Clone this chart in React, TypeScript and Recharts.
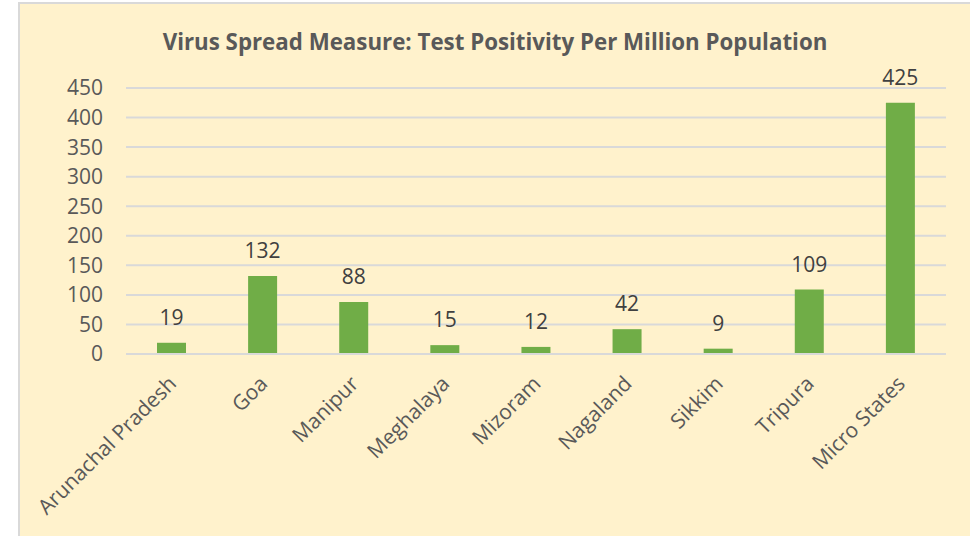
import { BarChart, Bar, XAxis, YAxis, CartesianGrid, LabelList } from 'recharts'

const states = [
  'Arunachal Pradesh',
  'Goa',
  'Manipur',
  'Meghalaya',
  'Mizoram',
  'Nagaland',
  'Sikkim',
  'Tripura',
  'Micro States',
]
const positivity = [19, 132, 88, 15, 12, 42, 9, 109, 425]
const yTicks = [0, 50, 100, 150, 200, 250, 300, 350, 400, 450]

const data = states.map((name, i) => ({ name, value: positivity[i] }))

const FONT = '"Open Sans", sans-serif'

function AngledTick(props: any) {
  const { x, y, payload } = props
  const ax = x + 6
  const ay = y + 23
  return (
    <text
      x={ax}
      y={ay}
      transform={`rotate(-45, ${ax}, ${ay})`}
      textAnchor="end"
      fill="#595959"
      fontSize={21}
      fontFamily={FONT}
    >
      {payload.value}
    </text>
  )
}

export default function App() {
  return (
    <div
      style={{
        position: 'absolute',
        left: 18,
        top: 2,
        width: 952,
        height: 534,
        background: '#FFF2CC',
        borderLeft: '2px solid #D9D9D9',
        borderTop: '2px solid #D9D9D9',
        boxSizing: 'border-box',
        overflow: 'hidden',
        fontFamily: FONT,
      }}
    >
      <div
        style={{
          position: 'absolute',
          top: 22,
          left: 0,
          width: 950,
          textAlign: 'center',
          fontWeight: 700,
          fontSize: 22.3,
          color: '#595959',
        }}
      >
        Virus Spread Measure: Test Positivity Per Million Population
      </div>
      <BarChart
        width={950}
        height={532}
        data={data}
        margin={{ top: 84, right: 24, bottom: 0, left: 0 }}
      >
        <CartesianGrid vertical={false} stroke="#D9D9D9" strokeWidth={2} />
        <XAxis
          dataKey="name"
          interval={0}
          height={182}
          axisLine={{ stroke: '#D9D9D9', strokeWidth: 2 }}
          tickLine={false}
          tick={<AngledTick />}
        />
        <YAxis
          width={106}
          domain={[0, 450]}
          ticks={yTicks}
          interval={0}
          axisLine={false}
          tickLine={false}
          tickSize={0}
          tickMargin={23}
          tick={{ fill: '#595959', fontSize: 21, fontFamily: FONT }}
        />
        <Bar dataKey="value" fill="#70AD47" barSize={29} isAnimationActive={false}>
          <LabelList
            dataKey="value"
            position="top"
            offset={18}
            fill="#404040"
            fontSize={21}
            fontFamily={FONT}
          />
        </Bar>
      </BarChart>
    </div>
  )
}
